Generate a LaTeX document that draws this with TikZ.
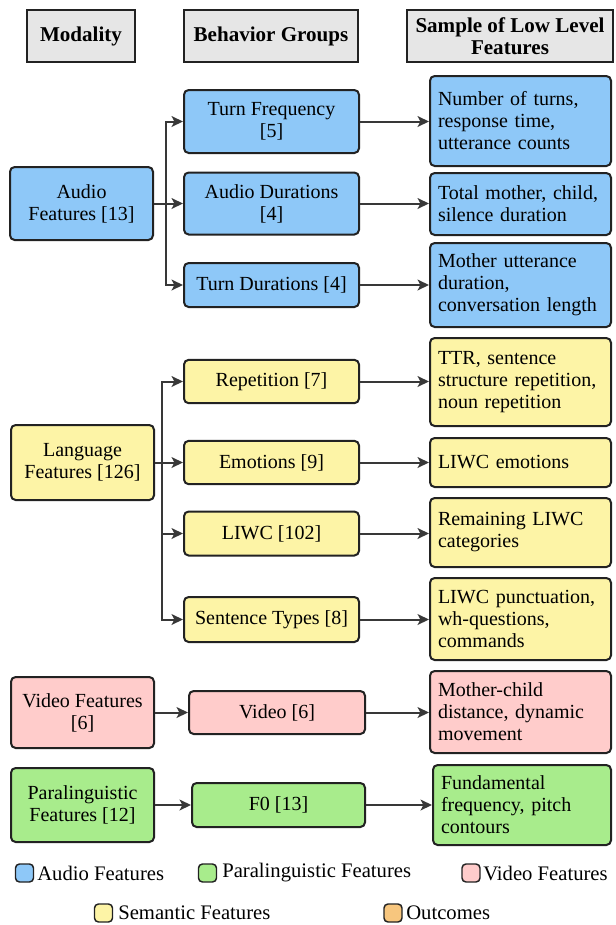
\documentclass[tikz,border=0pt]{standalone}
\usepackage{fontspec}
\setmainfont{Liberation Serif}
\usetikzlibrary{arrows.meta}
\definecolor{cblue}{HTML}{8EC8F8}
\definecolor{cyellow}{HTML}{FDF4A6}
\definecolor{cpink}{HTML}{FFCCCB}
\definecolor{cgreen}{HTML}{A8EC8C}
\definecolor{corange}{HTML}{F7C67E}
\definecolor{hgray}{HTML}{E6E6E6}
\definecolor{bord}{HTML}{222222}
\definecolor{arrc}{HTML}{383838}
\begin{document}
\begin{tikzpicture}[x=0.75pt,y=-0.75pt,
  font=\fontsize{15}{16.5}\selectfont,
  hdr/.style={draw=bord, line width=1.1pt, fill=hgray, align=center, inner sep=0pt,
    font=\fontsize{15.8}{16.5}\selectfont\bfseries},
  bx/.style={draw=bord, line width=1.5pt, rounded corners=3.5pt, align=center, inner sep=0pt},
  rb/.style={draw=bord, line width=1.5pt, rounded corners=3.5pt, align=left, inner xsep=6pt, inner ysep=0pt},
  arr/.style={draw=arrc, line width=1.5pt, -{Stealth[length=8.5pt,width=8pt,inset=2pt]}},
  lg/.style={draw=bord, line width=1.1pt, rounded corners=3pt, minimum size=13.5pt, inner sep=0pt},
  lt/.style={anchor=west, inner sep=0pt, font=\fontsize{15.5}{16.5}\selectfont}]
\useasboundingbox (0,0) rectangle (616,925);

% headers
\node[hdr, minimum width=81pt, minimum height=39pt] (h1) at (81,36) {Modality};
\node[hdr, minimum width=130.5pt, minimum height=39pt] (h2) at (271,36) {Behavior Groups};
\node[hdr, minimum width=154.5pt, minimum height=39pt] (h3) at (510,36) {Sample of Low Level\\Features};

% audio
\node[bx, fill=cblue, minimum width=107.25pt, minimum height=54.75pt] (af) at (81.5,203.5) {Audio\\Features [13]};
\node[bx, fill=cblue, minimum width=131.25pt, minimum height=47.25pt] (tf) at (271.5,121.5) {Turn Frequency\\{}[5]};
\node[bx, fill=cblue, minimum width=131.25pt, minimum height=46.5pt] (ad) at (271.5,203.5) {Audio Durations\\{}[4]};
\node[bx, fill=cblue, minimum width=131.25pt, minimum height=33pt] (td) at (271.5,285) {Turn Durations [4]};
\node[rb, fill=cblue, text width=123.75pt, minimum height=67.5pt] (r1) at (520.5,121) {Number of turns,\\response time,\\utterance counts};
\node[rb, fill=cblue, text width=123.75pt, minimum height=46.5pt] (r2) at (520.5,204) {Total mother, child,\\silence duration};
\node[rb, fill=cblue, text width=123.75pt, minimum height=63pt] (r3) at (520.5,285) {Mother utterance\\duration,\\conversation length};
\coordinate (ja) at (166,203.5);
\draw[arr] (af.east) -- (af.east -| ad.west);
\draw[arr] (ja) |- (tf.west);
\draw[arr] (ja) |- (td.west);
\draw[arr] (tf.east) -- (tf.east -| r1.west);
\draw[arr] (ad.east) -- (ad.east -| r2.west);
\draw[arr] (td.east) -- (td.east -| r3.west);

% language
\node[bx, fill=cyellow, minimum width=107.25pt, minimum height=56.25pt] (lf) at (82.5,462.5) {Language\\Features [126]};
\node[bx, fill=cyellow, minimum width=131.25pt, minimum height=32.5pt] (rep) at (271.5,381.5) {Repetition [7]};
\node[bx, fill=cyellow, minimum width=131.25pt, minimum height=32.5pt] (emo) at (271.5,462.5) {Emotions [9]};
\node[bx, fill=cyellow, minimum width=131.25pt, minimum height=33pt] (liwc) at (271.5,533.5) {LIWC [102]};
\node[bx, fill=cyellow, minimum width=131.25pt, minimum height=33.75pt] (st) at (271.5,619.5) {Sentence Types [8]};
\node[rb, fill=cyellow, text width=123.75pt, minimum height=66pt] (r4) at (520.5,382) {TTR, sentence\\structure repetition,\\noun repetition};
\node[rb, fill=cyellow, text width=123.75pt, minimum height=36.75pt] (r5) at (520.5,462.5) {LIWC emotions};
\node[rb, fill=cyellow, text width=123.75pt, minimum height=51.75pt] (r6) at (520.5,532.5) {Remaining LIWC\\categories};
\node[rb, fill=cyellow, text width=123.75pt, minimum height=61.5pt] (r7) at (520.5,619) {LIWC punctuation,\\wh-questions,\\commands};
\coordinate (jl) at (162,462.5);
\draw[arr] (lf.east) -- (lf.east -| emo.west);
\draw[arr] (jl) |- (rep.west);
\draw[arr] (jl) |- (liwc.west);
\draw[arr] (jl) |- (st.west);
\draw[arr] (rep.east) -- (rep.east -| r4.west);
\draw[arr] (emo.east) -- (emo.east -| r5.west);
\draw[arr] (liwc.east) -- (liwc.east -| r6.west);
\draw[arr] (st.east) -- (st.east -| r7.west);

% video
\node[bx, fill=cpink, minimum width=107.25pt, minimum height=53.25pt] (vf) at (82.5,712.5) {Video Features\\{}[6]};
\node[bx, fill=cpink, minimum width=132pt, minimum height=32.25pt] (vid) at (277,712.5) {Video [6]};
\node[rb, fill=cpink, text width=123.75pt, minimum height=61.5pt] (r8) at (520.5,712) {Mother-child\\distance, dynamic\\movement};
\draw[arr] (vf.east) -- (vf.east -| vid.west);
\draw[arr] (vid.east) -- (vid.east -| r8.west);

% paralinguistic
\node[bx, fill=cgreen, minimum width=107.25pt, minimum height=55.5pt] (pf) at (82.5,805) {Paralinguistic\\Features [12]};
\node[bx, fill=cgreen, minimum width=129.75pt, minimum height=33pt] (f0) at (278.5,805) {F0 [13]};
\node[rb, fill=cgreen, text width=121.5pt, minimum height=60pt] (r9) at (522,805) {Fundamental\\frequency, pitch\\contours};
\draw[arr] (pf.east) -- (pf.east -| f0.west);
\draw[arr] (f0.east) -- (f0.east -| r9.west);

% legend
\node[lg, fill=cblue] (l1) at (24.5,873) {};
\node[lt] (t1) at (37,873) {Audio Features};
\node[lg, fill=cgreen] (l2) at (207.5,873) {};
\node[lt] (t2) at (222,873) {Paralinguistic Features};
\node[lg, fill=cpink] (l3) at (471,873) {};
\node[lt] (t3) at (483,873) {Video Features};
\node[lg, fill=cyellow] (l4) at (103.5,913) {};
\node[lt] (t4) at (118,913) {Semantic Features};
\node[lg, fill=corange] (l5) at (393,913) {};
\node[lt] (t5) at (406,913) {Outcomes};
\end{tikzpicture}
\end{document}
